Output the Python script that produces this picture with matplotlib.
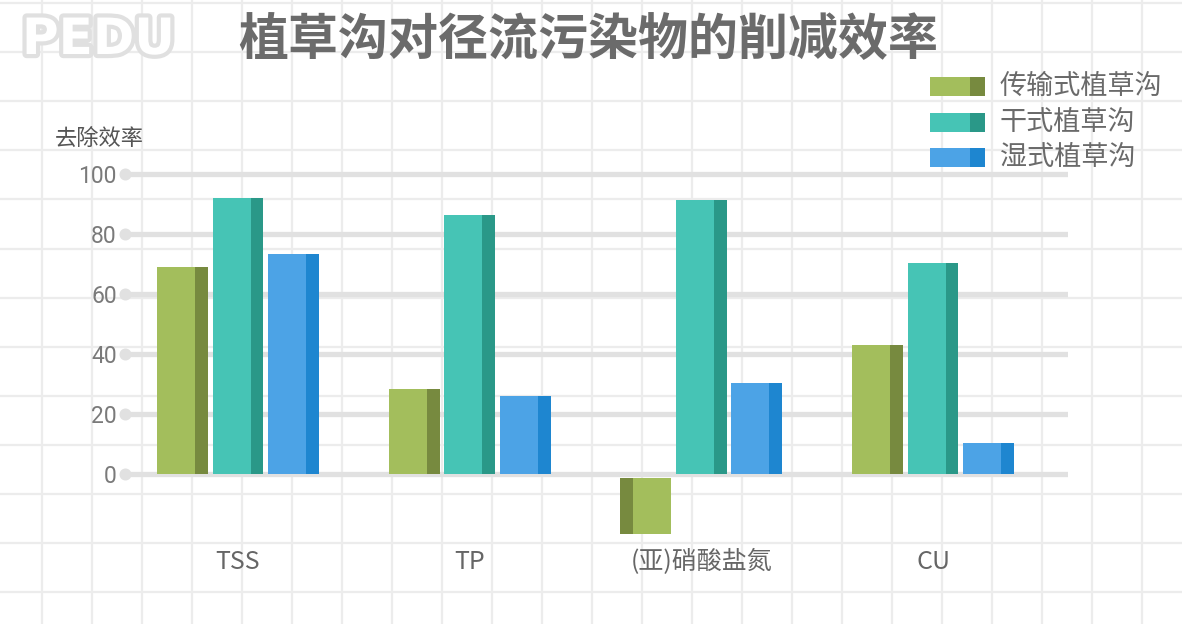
import matplotlib.pyplot as plt
import matplotlib.patheffects as pe
import numpy as np
from matplotlib.patches import Rectangle

plt.rcParams['font.family'] = ['Noto Sans CJK SC', 'DejaVu Sans']

# data
categories = ["TSS", "TP", "(亚)硝酸盐氮", "CU"]
series_names = ["传输式植草沟", "干式植草沟", "湿式植草沟"]
transfer_swale = [69, 28.5, -20, 43]
dry_swale = [92, 86.3, 91.3, 70.3]
wet_swale = [73.5, 26, 30.3, 10.3]
y_ticks = [0, 20, 40, 60, 80, 100]

series_values = [transfer_swale, dry_swale, wet_swale]
light_colors = ["#A3BE5C", "#46C4B5", "#4CA3E6"]
dark_colors = ["#778A3F", "#2A9888", "#1E86D0"]

W, H = 1182, 624
fig = plt.figure(figsize=(W / 100, H / 100), dpi=100)
fig.patch.set_facecolor("white")

# background grid paper
bg = fig.add_axes([0, 0, 1, 1], zorder=-5)
bg.set_xlim(0, W)
bg.set_ylim(H, 0)
bg.axis("off")
for gx in np.arange(42, W, 50):
    bg.axvline(gx, color="#ececec", lw=1.6)
for gy in np.arange(3, H, 49.1):
    bg.axhline(gy, color="#ececec", lw=1.6)

# watermark
bg.text(22, 40, "PEDU", fontsize=36, fontweight="bold", family="DejaVu Sans",
        color="white", ha="left", va="center",
        path_effects=[pe.withStroke(linewidth=6, foreground="#e0e0e0")])

# title
fig.text(588 / W, 1 - 40 / H, "植草沟对径流污染物的削减效率", fontsize=36,
         fontweight="bold", color="#6b6b6b", ha="center", va="center")
fig.text(55 / W, 1 - 138 / H, "去除效率", fontsize=16, color="#555555",
         ha="left", va="center", fontweight="medium")

# main axes
left_px, right_px, top_px, bot_px = 125, 1068, 159, 549
unit = 231.67
ax = fig.add_axes([left_px / W, 1 - bot_px / H, (right_px - left_px) / W,
                   (bot_px - top_px) / H])
ax.patch.set_alpha(0)
ax.set_xlim((left_px - 238) / unit, (right_px - 238) / unit)
ax.set_ylim(-25, 105)
for s in ax.spines.values():
    s.set_visible(False)

x = np.arange(len(categories))
offsets = [-0.24, 0.0, 0.24]
total_w = 0.22
side_w = 0.056
front_w = total_w - side_w

for vals, off, lc, dc in zip(series_values, offsets, light_colors, dark_colors):
    vals = np.array(vals, dtype=float)
    sgn = np.where(vals >= 0, 1, -1)
    front_x = x + off - sgn * side_w / 2
    side_x = x + off + sgn * front_w / 2
    # negative bars hang just below the thick zero line
    base = np.where(vals >= 0, 0, -1.3)
    ax.bar(front_x, vals - base, bottom=base, width=front_w, color=lc, zorder=3, linewidth=0)
    ax.bar(side_x, vals - base, bottom=base, width=side_w, color=dc, zorder=3, linewidth=0)

# y grid lines with dots
for t in y_ticks:
    ax.plot([ax.get_xlim()[0], ax.get_xlim()[1]], [t, t], color="#e1e1e1",
            lw=3.8, solid_capstyle="butt", zorder=1)
ax.scatter([ax.get_xlim()[0]] * len(y_ticks), y_ticks, s=75, color="#e1e1e1",
           zorder=2, clip_on=False, linewidths=0)

ax.set_yticks(y_ticks)
ax.set_yticklabels([str(t) for t in y_ticks], fontsize=16.5, color="#7a7a7a",
                   family="Roboto")
ax.tick_params(axis="y", length=0, pad=6)
ax.set_xticks(x)
ax.set_xticklabels(categories, fontsize=18, color="#666666", fontweight="medium")
ax.tick_params(axis="x", length=0, pad=0)

# legend
leg_rows = [86, 122, 157]
for name, lc, dc, ry in zip(series_names, light_colors, dark_colors, leg_rows):
    fig.add_artist(Rectangle((930 / W, 1 - (ry + 9.5) / H), 40 / W, 19 / H,
                             transform=fig.transFigure, color=lc, lw=0))
    fig.add_artist(Rectangle((970 / W, 1 - (ry + 9.5) / H), 15 / W, 19 / H,
                             transform=fig.transFigure, color=dc, lw=0))
    fig.text(1000 / W, 1 - ry / H, name, fontsize=19.5, color="#6a6a6a",
             ha="left", va="center")

fig.savefig("out.png", dpi=100)
